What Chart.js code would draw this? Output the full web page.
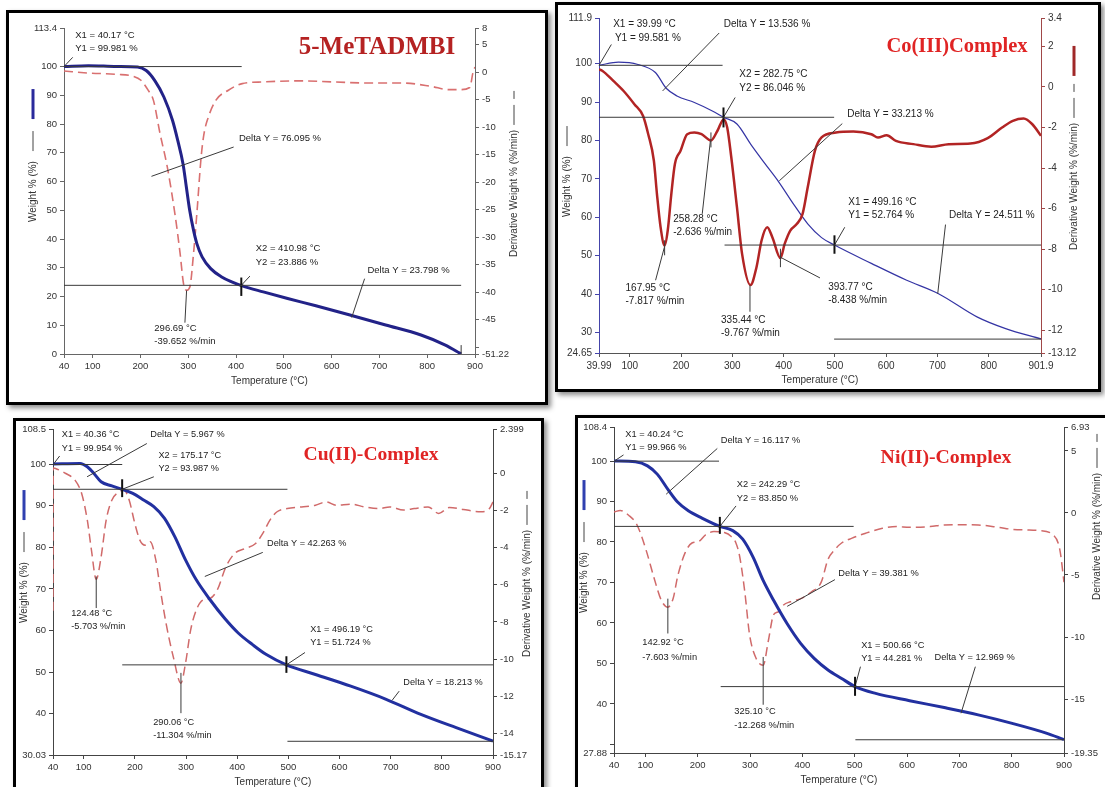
<!DOCTYPE html>
<html><head><meta charset="utf-8">
<script src="https://cdn.jsdelivr.net/npm/chart.js@4/dist/chart.umd.min.js"></script>
<style>
body{margin:0;background:#fff;width:1105px;height:787px;overflow:hidden;position:relative}
.frame{position:absolute;border:3px solid #000;box-shadow:3px 3px 5px rgba(0,0,0,.45);background:#fff;box-sizing:border-box}
canvas{position:absolute;left:0;top:0}
</style></head><body>
<div class="frame" style="left:6px;top:10px;width:542px;height:395px"></div>
<div class="frame" style="left:555px;top:2px;width:546px;height:390px"></div>
<div class="frame" style="left:13px;top:418px;width:531px;height:400px"></div>
<div class="frame" style="left:575px;top:415px;width:545px;height:400px"></div>
<canvas id="c1" width="1105" height="787"></canvas>
<canvas id="c2" width="1105" height="787"></canvas>
<canvas id="c3" width="1105" height="787"></canvas>
<canvas id="c4" width="1105" height="787"></canvas>
<script>
// ---------- DATA ----------
// Panel 1: 5-MeTADMBI
const P1_TEMP_WEIGHT = [40,91,150,194,212,230,249,267,278,289,296,303,311,318,329,347,369,391,413,457,508,567,640,713,787,838,867,871];
const P1_WEIGHT      = [100,100.3,100,99.8,98.6,95.1,89.4,81.3,74.3,66.2,58.1,50,43.1,38.4,33.8,29.7,26.9,25.1,23.7,21.6,19.3,16.8,13.5,10.1,6.6,3.1,0.4,0];
const P1_TEMP_DERIV  = [40,91,150,186,201,216,227,241,256,272,283,290,296.7,303.5,311,318,327,333,342,358,384,413,457,530,604,677,750,808,845,867,889,896,900];
const P1_DERIV       = [0.18,-0.18,-0.42,-0.79,-1.5,-3.3,-5.1,-11.2,-17.2,-25.7,-33,-38.4,-39.65,-39,-33,-25.7,-15.4,-11.2,-8.2,-5.1,-3.3,-2.1,-1.8,-1.6,-1.8,-2.0,-2.0,-2.6,-3.2,-3.2,-2.8,0,0.9];
const P1_X_TICKS = [40,100,200,300,400,500,600,700,800,900];
const P1_X_LABELS = ['40','100','200','300','400','500','600','700','800','900'];
const P1_YL_TICKS = [0,10,20,30,40,50,60,70,80,90,100,113.4];
const P1_YL_LABELS = ['0','10','20','30','40','50','60','70','80','90','100','113.4'];
const P1_YR_TICKS = [-51.22,-50,-45,-40,-35,-30,-25,-20,-15,-10,-5,0,5,8];
const P1_YR_LABELS = ['-51.22','','-45','-40','-35','-30','-25','-20','-15','-10','-5','0','5','8'];

// Panel 2: Co(III)Complex
const P2_TEMP_WEIGHT = [39.99,78,116,150,171,192,226,261,282.75,309,336,364,391,419,447,474,499.16,571,640,702,778,833,901.9];
const P2_WEIGHT      = [99.6,100.4,99.8,97.7,93.6,91.6,89.9,87.7,86.05,84.3,79,73.9,69.1,63.5,58.3,54.7,52.76,48,43.6,40.1,34,31,28.3];
const P2_TEMP_DERIV  = [39.99,47,68,88,109,126,136,147,153,160,167.95,174,181,188,199,212,226,240,258.28,271,283,290,298,309,319,335.44,347,357,368,378,393.77,402,413,426,437,447,461,474,502,536,571,584,601,619,653,688,722,764,798,826,847,868,885,901.9];
const P2_DERIV       = [0.87,0.79,0.3,-0.2,-0.85,-1.43,-2.33,-3.64,-5.28,-6.9,-7.82,-7.08,-5.28,-3.8,-3.15,-2.33,-2.25,-2.33,-2.64,-2.16,-1.6,-2.0,-3.48,-5.93,-8.23,-9.77,-8.9,-7.57,-6.92,-7.41,-8.44,-7.74,-7.08,-6.75,-6.26,-4.95,-3.15,-2.49,-2.25,-2.2,-2.33,-2.49,-2.38,-2.66,-2.82,-2.95,-2.82,-2.79,-2.52,-2.0,-1.67,-1.56,-1.84,-2.41];
const P2_X_TICKS = [39.99,100,200,300,400,500,600,700,800,901.9];
const P2_X_LABELS = ['39.99','100','200','300','400','500','600','700','800','901.9'];
const P2_YL_TICKS = [24.65,30,40,50,60,70,80,90,100,111.9];
const P2_YL_LABELS = ['24.65','30','40','50','60','70','80','90','100','111.9'];
const P2_YR_TICKS = [-13.12,-12,-10,-8,-6,-4,-2,0,2,3.4];
const P2_YR_LABELS = ['-13.12','-12','-10','-8','-6','-4','-2','0','2','3.4'];

// Panel 3: Cu(II)-Complex
const P3_TEMP_WEIGHT = [40,93,107,120,134,155,175.17,196,217,237,258,278,299,320,347,375,402,430,457,496.19,553,622,690,759,828,900];
const P3_WEIGHT      = [100.1,100.2,99.4,97.8,95.8,94.8,94.0,93,91.4,89.8,87,82.6,77,72.2,67.4,63,59.4,56.6,54.2,51.72,49.4,46.6,43.5,39.8,36.6,33.4];
const P3_TEMP_DERIV  = [40,40.5,45,65,83,96,107,115,124.48,134,144,155,169,179,189,200,210,220,230,241,251,261,275,290.06,299,309,320,333,347,361,378,395,416,436,450,464,478,498,526,553,574,594,622,649,677,698,725,746,773,794,815,842,876,893,900];
const P3_DERIV       = [-7.4,0.3,0.27,0,-0.36,-1.08,-2.5,-4.1,-5.7,-4.5,-2.5,-1.44,-1.0,-0.9,-1.44,-2.7,-3.6,-3.86,-3.68,-4.67,-6.46,-8.08,-9.87,-11.3,-10.23,-8.44,-7.36,-6.82,-6.73,-6.28,-5.03,-4.31,-4.04,-3.77,-3.23,-2.51,-2.06,-1.89,-1.8,-1.71,-1.53,-1.71,-1.65,-1.8,-1.89,-1.8,-1.97,-1.89,-1.8,-2.15,-1.83,-1.94,-2.06,-1.89,-1.53];
const P3_X_TICKS = [40,100,200,300,400,500,600,700,800,900];
const P3_X_LABELS = ['40','100','200','300','400','500','600','700','800','900'];
const P3_YL_TICKS = [30.03,40,50,60,70,80,90,100,108.5];
const P3_YL_LABELS = ['30.03','40','50','60','70','80','90','100','108.5'];
const P3_YR_TICKS = [-15.17,-14,-12,-10,-8,-6,-4,-2,0,2.399];
const P3_YR_LABELS = ['-15.17','-14','-12','-10','-8','-6','-4','-2','0','2.399'];

// Panel 4: Ni(II)-Complex
const P4_TEMP_WEIGHT = [40,81,104,123,143,162,182,208,242.29,267,286,306,325,345,371,397,423,449,475,500.66,540,605,671,736,801,866,900];
const P4_WEIGHT      = [100,99.8,98.8,96.7,93,89.8,87.7,85.9,83.85,82.8,80.7,76.2,70.5,65.6,59.8,54.9,51.2,48.4,46.3,44.28,42.6,40.8,39.1,37.3,35.2,32.8,31.2];
const P4_TEMP_DERIV  = [40,52,68,84,101,117,130,142.92,153,162,176,189,202,215,231,251,264,273,280,290,299,312,325.1,335,345,355,364,377,397,417,436,449,462,475,495,521,553,580,605,644,671,703,736,775,801,827,853,879,892,900];
const P4_DERIV       = [0.08,0.2,-0.18,-0.97,-2.95,-5.3,-7.0,-7.6,-6.9,-5.05,-3.2,-2.42,-2.29,-1.76,-1.5,-1.58,-1.89,-2.42,-3.47,-6.37,-9.79,-11.76,-12.27,-10.3,-8.2,-7.95,-7.42,-7.16,-6.9,-6.37,-5.58,-3.74,-2.95,-2.42,-2.03,-1.63,-1.24,-1.1,-1.16,-1.1,-0.97,-0.95,-0.97,-1.16,-1.32,-1.37,-1.42,-1.76,-2.95,-5.58];
const P4_X_TICKS = [40,100,200,300,400,500,600,700,800,900];
const P4_X_LABELS = ['40','100','200','300','400','500','600','700','800','900'];
const P4_YL_TICKS = [27.88,30,40,50,60,70,80,90,100,108.4];
const P4_YL_LABELS = ['27.88','','40','50','60','70','80','90','100','108.4'];
const P4_YR_TICKS = [-19.35,-15,-10,-5,0,5,6.93];
const P4_YR_LABELS = ['-19.35','-15','-10','-5','0','5','6.93'];

// ---------- ANNOTATIONS (data units: °C, weight %) ----------
const P1_NOTES = {
  texts: [[63.4,111.0,'X1 = 40.17 °C'],[63.4,106.4,'Y1 = 99.981 %'],[406,74.9,'Delta Y = 76.095 %'],
          [441,36.7,'X2 = 410.98 °C'],[441,32,'Y2 = 23.886 %'],[675,29.2,'Delta Y = 23.798 %'],
          [229,8.9,'296.69 °C'],[229,4.5,'-39.652 %/min']],
  lines: [[40,99.981,411.8,99.981],[40,99.981,58.3,103.2],[223,61.8,395,72],[411,23.886,429,27.1],
          [411,26.6,411,20.2,'t'],[40,23.886,871,23.886],[642,12.7,669,26.2],[296.5,22.1,293,10.9],[871,0,871,3.1]]
};
const P2_NOTES = {
  texts: [[67.6,110.2,'X1 = 39.99 °C'],[71,106.7,'Y1 = 99.581 %'],[283.4,110.2,'Delta Y = 13.536 %'],
          [313.7,97.2,'X2 = 282.75 °C'],[313.7,93.6,'Y2 = 86.046 %'],[524,86.8,'Delta Y = 33.213 %'],
          [526,63.9,'X1 = 499.16 °C'],[526,60.5,'Y1 = 52.764 %'],[722.6,60.5,'Delta Y = 24.511 %'],
          [184.8,59.6,'258.28 °C'],[184.8,56.1,'-2.636 %/min'],[91.7,41.4,'167.95 °C'],[91.7,38,'-7.817 %/min'],
          [277.9,33.2,'335.44 °C'],[277.9,29.7,'-9.767 %/min'],[486.8,41.9,'393.77 °C'],[486.8,38.4,'-8.438 %/min']],
  lines: [[39.99,99.581,281,99.581],[39.99,99.581,64.1,105],[164,92.9,274.4,108],[282.75,86.046,305.5,91.2],
          [282.75,88.6,282.75,83.4,'t'],[39.99,86.046,498.5,86.046],[391.6,69.5,514.4,84.4],[499.16,52.764,519.2,57.4],
          [499.16,55.3,499.16,50.5,'t'],[284.8,52.764,901.9,52.764],[700.5,40.1,715.7,58.1],[498.5,28.27,901.9,28.27],
          [257.2,79.9,241.3,60.9],[258.28,82.1,258.28,78.2],[167.5,52.2,150.3,43.6],[167.95,54,167.95,50.1],
          [334.4,42.3,334.4,35.4],[393.7,49.6,470.9,44.2],[393.77,51.8,393.77,47]]
};
const P3_NOTES = {
  texts: [[57.2,107.1,'X1 = 40.36 °C'],[57.2,103.8,'Y1 = 99.954 %'],[230.3,107.1,'Delta Y = 5.967 %'],
          [246.1,102.2,'X2 = 175.17 °C'],[246.1,99,'Y2 = 93.987 %'],[458.3,81,'Delta Y = 42.263 %'],
          [542.8,60.2,'X1 = 496.19 °C'],[542.8,57.1,'Y1 = 51.724 %'],[724.8,47.4,'Delta Y = 18.213 %'],
          [75.7,64.2,'124.48 °C'],[75.7,61,'-5.703 %/min'],[235.8,37.9,'290.06 °C'],[235.8,34.7,'-11.304 %/min']],
  lines: [[40,99.954,175.3,99.954],[40.36,99.954,53,102],[106.6,97,223.4,105],[175.17,93.987,237.1,97],
          [175.17,96.4,175.17,92.1,'t'],[40,93.987,498.2,93.987],[336.7,73,450,78.8],[496.19,51.724,532.5,54.7],
          [496.19,53.8,496.19,49.8,'t'],[175.3,51.724,900,51.724],[702.9,43.2,716.6,45.4],[498.2,33.33,900,33.33],
          [124.48,73,124.48,65.4],[290.06,49.8,290.06,40.1]]
};
const P4_NOTES = {
  texts: [[61.5,106.6,'X1 = 40.24 °C'],[61.5,103.4,'Y1 = 99.966 %'],[243.9,105.1,'Delta Y = 16.117 %'],
          [274.5,94.1,'X2 = 242.29 °C'],[274.5,90.8,'Y2 = 83.850 %'],[468.7,72.3,'Delta Y = 39.381 %'],
          [512.3,54.5,'X1 = 500.66 °C'],[512.3,51.2,'Y1 = 44.281 %'],[652.4,51.6,'Delta Y = 12.969 %'],
          [94.1,55.3,'142.92 °C'],[94.1,51.6,'-7.603 %/min'],[270,38.1,'325.10 °C'],[270,34.8,'-12.268 %/min']],
  lines: [[40,99.966,240.7,99.966],[40.24,99.966,58.2,101.5],[139.7,91.8,237.4,103.1],[242.29,83.85,273.2,88.9],
          [242.29,86.2,242.29,82,'t'],[40,83.85,498,83.85],[371,64.1,462.2,70.7],[500.66,44.281,511,49.2],
          [500.66,46.7,500.66,42,'t'],[243.9,44.281,900,44.281],[703.2,37.7,730.6,49.2],[501.3,31.15,900,31.15],
          [142.92,66,142.92,57.4],[325.1,51.6,325.1,39.8]]
};

// ---------- RENDERING ----------
const FONT = '"Liberation Sans", Arial, sans-serif';
Chart.defaults.font.family = FONT;
Chart.defaults.font.size = 9.5;
Chart.defaults.color = '#333';

function pts(xs, ys){ return xs.map((x,i)=>({x:x, y:ys[i]})); }

function axis(pos, min, max, ticks, labels, color, fontSize){
  return {
    type:'linear', position:pos, min:min, max:max,
    afterBuildTicks: s => { s.ticks = ticks.map(v=>({value:v})); },
    afterFit: s => { if (pos==='bottom') s.height = 30; else s.width = 50; },
    grid: {drawOnChartArea:false, tickLength:4, color:color, tickWidth:1},
    border: {display:true, color:color, width:1},
    ticks: {autoSkip:false, maxRotation:0, minRotation:0, padding:3, color:'#333',
            font:{size:fontSize}, callback:(v,i)=>labels[i]}
  };
}

function vtitle(ctx, text, t, isRight){
  ctx.save();
  ctx.translate(t.x, t.yB);
  ctx.rotate(-Math.PI/2);
  ctx.font = '10px ' + FONT;
  ctx.fillStyle = '#333';
  ctx.textAlign = 'left'; ctx.textBaseline = 'middle';
  ctx.fillText(text, 0, 0);
  const w = ctx.measureText(text).width;
  ctx.strokeStyle = '#444'; ctx.lineWidth = 1;
  let p;
  if (isRight){
    ctx.beginPath(); ctx.moveTo(w+5,0); ctx.lineTo(w+25,0); ctx.moveTo(w+31,0); ctx.lineTo(w+39,0); ctx.stroke();
    p = w + 47;
  } else {
    ctx.beginPath(); ctx.moveTo(w+10,0); ctx.lineTo(w+30,0); ctx.stroke();
    p = w + 42;
  }
  if (t.bar){
    ctx.strokeStyle = t.bar; ctx.lineWidth = 3;
    ctx.beginPath(); ctx.moveTo(p,0); ctx.lineTo(p+30,0); ctx.stroke();
  }
  ctx.restore();
}

function decor(cfg){
  return { id:'decor', afterDraw(chart){
    const ctx = chart.ctx, xs = chart.scales.x, ys = chart.scales.yL;
    const X = v=>xs.getPixelForValue(v), Y = v=>ys.getPixelForValue(v);
    ctx.save();
    cfg.notes.lines.forEach(l=>{
      const tick = l[4]==='t';
      ctx.beginPath();
      ctx.strokeStyle = tick ? '#111' : '#3a3a3a';
      ctx.lineWidth = tick ? 2 : 1;
      ctx.moveTo(X(l[0]), Y(l[1])); ctx.lineTo(X(l[2]), Y(l[3])); ctx.stroke();
    });
    ctx.font = cfg.noteSize + 'px ' + FONT; ctx.fillStyle = '#222';
    ctx.textBaseline = 'middle'; ctx.textAlign = 'left';
    cfg.notes.texts.forEach(t=>ctx.fillText(t[2], X(t[0]), Y(t[1])));
    ctx.font = 'bold ' + cfg.titleSize + 'px "Liberation Serif", "Times New Roman", serif';
    ctx.fillStyle = cfg.titleColor; ctx.textAlign = 'center'; ctx.textBaseline = 'alphabetic';
    ctx.fillText(cfg.title, cfg.titlePos[0], cfg.titlePos[1]);
    const a = chart.chartArea;
    ctx.font = '10px ' + FONT; ctx.fillStyle = '#333'; ctx.textBaseline = 'middle';
    ctx.fillText('Temperature (°C)', (a.left+a.right)/2, a.bottom + 27);
    ctx.restore();
    vtitle(ctx, 'Weight % (%)', cfg.leftTitle, false);
    vtitle(ctx, 'Derivative Weight % (%/min)', cfg.rightTitle, true);
  }};
}

function makeChart(id, p){
  const wDs = { data: pts(p.tw, p.w), yAxisID:'yL', borderColor:p.wColor, borderWidth:p.wWidth,
    pointRadius:0, cubicInterpolationMode:'monotone', fill:false };
  const dDs = { data: pts(p.td, p.d), yAxisID:'yR', borderColor:p.dColor, borderWidth:p.dWidth,
    borderDash:p.dDash, pointRadius:0, cubicInterpolationMode:'monotone', fill:false };
  const datasets = p.derivOnTop ? [dDs, wDs] : [wDs, dDs];
  const pad = {left:p.area[0]-50, top:p.area[1], right:1105-p.area[2]-50, bottom:787-p.area[3]-30};
  new Chart(document.getElementById(id), {
    type:'line',
    data:{datasets:datasets},
    options:{
      responsive:false, animation:false, devicePixelRatio:1, events:[],
      layout:{padding:pad},
      plugins:{legend:{display:false}, tooltip:{enabled:false}},
      scales:{
        x: axis('bottom', p.xr[0], p.xr[1], p.xt, p.xl, p.axX, p.fs),
        yL: axis('left', p.yl[0], p.yl[1], p.ylt, p.yll, p.axL, p.fs),
        yR: axis('right', p.yr[0], p.yr[1], p.yrt, p.yrl, p.axR, p.fs)
      }
    },
    plugins:[decor(p.decor)]
  });
}

makeChart('c1', {
  tw:P1_TEMP_WEIGHT, w:P1_WEIGHT, td:P1_TEMP_DERIV, d:P1_DERIV,
  wColor:'#222288', wWidth:3, dColor:'#d97070', dWidth:1.6, dDash:[9,5],
  area:[64,28,475,354], xr:[40,900], yl:[0,113.4], yr:[-51.22,8],
  xt:P1_X_TICKS, xl:P1_X_LABELS, ylt:P1_YL_TICKS, yll:P1_YL_LABELS, yrt:P1_YR_TICKS, yrl:P1_YR_LABELS,
  axX:'#666', axL:'#666', axR:'#666', fs:9.5,
  decor:{notes:P1_NOTES, noteSize:9.5, title:'5-MeTADMBI', titleSize:25, titleColor:'#b52222', titlePos:[377,54],
    leftTitle:{x:33, yB:222, bar:'#2a2a9c'}, rightTitle:{x:514, yB:257}}
});
makeChart('c2', {
  tw:P2_TEMP_WEIGHT, w:P2_WEIGHT, td:P2_TEMP_DERIV, d:P2_DERIV, derivOnTop:true,
  wColor:'#3434a4', wWidth:1.2, dColor:'#b22424', dWidth:2.5, dDash:[],
  area:[599,18,1041,353], xr:[39.99,901.9], yl:[24.65,111.9], yr:[-13.12,3.4],
  xt:P2_X_TICKS, xl:P2_X_LABELS, ylt:P2_YL_TICKS, yll:P2_YL_LABELS, yrt:P2_YR_TICKS, yrl:P2_YR_LABELS,
  axX:'#555', axL:'#4444aa', axR:'#a04848', fs:10,
  decor:{notes:P2_NOTES, noteSize:10, title:'Co(III)Complex', titleSize:20.5, titleColor:'#e02424', titlePos:[957,52],
    leftTitle:{x:567, yB:217}, rightTitle:{x:1074, yB:250, bar:'#a02828'}}
});
makeChart('c3', {
  tw:P3_TEMP_WEIGHT, w:P3_WEIGHT, td:P3_TEMP_DERIV, d:P3_DERIV,
  wColor:'#2230a0', wWidth:3, dColor:'#d06a6a', dWidth:1.5, dDash:[9,5],
  area:[53,429,493,755], xr:[40,900], yl:[30.03,108.5], yr:[-15.17,2.399],
  xt:P3_X_TICKS, xl:P3_X_LABELS, ylt:P3_YL_TICKS, yll:P3_YL_LABELS, yrt:P3_YR_TICKS, yrl:P3_YR_LABELS,
  axX:'#444', axL:'#444', axR:'#444', fs:9.5,
  decor:{notes:P3_NOTES, noteSize:9.2, title:'Cu(II)-Complex', titleSize:19.6, titleColor:'#e02424', titlePos:[371,460],
    leftTitle:{x:24, yB:623, bar:'#3040b0'}, rightTitle:{x:527, yB:657}}
});
makeChart('c4', {
  tw:P4_TEMP_WEIGHT, w:P4_WEIGHT, td:P4_TEMP_DERIV, d:P4_DERIV,
  wColor:'#2230a0', wWidth:3, dColor:'#d06a6a', dWidth:1.5, dDash:[9,5],
  area:[614,427,1064,753], xr:[40,900], yl:[27.88,108.4], yr:[-19.35,6.93],
  xt:P4_X_TICKS, xl:P4_X_LABELS, ylt:P4_YL_TICKS, yll:P4_YL_LABELS, yrt:P4_YR_TICKS, yrl:P4_YR_LABELS,
  axX:'#444', axL:'#444', axR:'#444', fs:9.5,
  decor:{notes:P4_NOTES, noteSize:9.3, title:'Ni(II)-Complex', titleSize:19.8, titleColor:'#e02424', titlePos:[946,463],
    leftTitle:{x:584, yB:613, bar:'#3040b0'}, rightTitle:{x:1097, yB:600}}
});
</script>
</body></html>
